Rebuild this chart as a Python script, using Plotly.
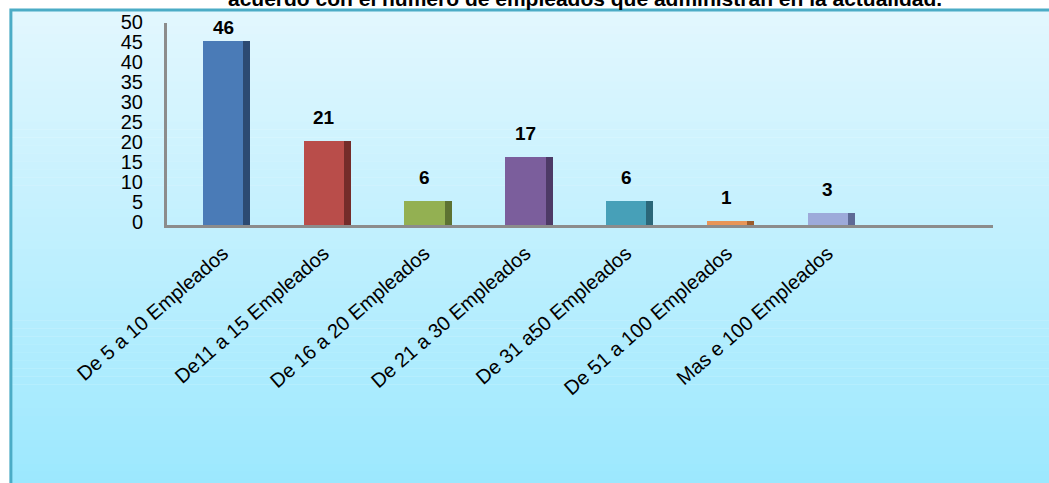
import plotly.graph_objects as go

categories = ["De 5 a 10 Empleados", "De11 a 15 Empleados", "De 16 a 20 Empleados",
              "De 21 a 30 Empleados", "De 31 a50 Empleados", "De 51 a 100 Empleados",
              "Mas e 100 Empleados", ""]
values = [46, 21, 6, 17, 6, 1, 3]
front_colors = ["#4A7BB7", "#B94D4A", "#93B052", "#7B5E9C", "#47A0B8", "#E89557", "#9DAADA"]
side_colors = ["#2C4A72", "#742C2A", "#5D7232", "#4D3A66", "#2B6779", "#9C5C2C", "#5E6A96"]
title_text = "acuerdo con el número de empleados que administran en la actualidad."

x_pos = list(range(len(categories)))
vals_pos = x_pos[:len(values)]

fig = go.Figure()

# background gradient box (decoration)
top_rgb = (0xE2, 0xF7, 0xFE)
bot_rgb = (0x9C, 0xE8, 0xFE)
n = 60
y_top, y_bot = 1.064, -1.30
for i in range(n):
    t = i / (n - 1)
    c = tuple(int(round(top_rgb[k] + (bot_rgb[k] - top_rgb[k]) * t)) for k in range(3))
    y0 = y_top - (y_top - y_bot) * i / n
    y1 = y_top - (y_top - y_bot) * (i + 1) / n
    fig.add_shape(type="rect", xref="paper", yref="paper", x0=-0.189, x1=1.1,
                  y0=y1 - 0.002, y1=y0, fillcolor="rgb(%d,%d,%d)" % c,
                  line_width=0, layer="below")
fig.add_shape(type="rect", xref="paper", yref="paper", x0=-0.189, x1=1.1,
              y0=-1.3, y1=1.064, line=dict(color="#4BACC6", width=3),
              fillcolor="rgba(0,0,0,0)", layer="below")

front_w = 0.40
side_w = 0.07
fig.add_trace(go.Bar(x=vals_pos, y=values, width=front_w, marker_color=front_colors,
                     marker_line_width=0, hoverinfo="skip", showlegend=False))
fig.add_trace(go.Bar(x=[p + front_w / 2 + side_w / 2 for p in vals_pos], y=values,
                     width=side_w, marker_color=side_colors, marker_line_width=0,
                     hoverinfo="skip", showlegend=False))

for p, v in zip(vals_pos, values):
    fig.add_annotation(x=p, y=min(v + 6, 49.5), text="<b>%d</b>" % v, showarrow=False,
                       yanchor="middle", xanchor="center",
                       font=dict(family="Liberation Sans, Arial", size=19, color="#000"))

fig.add_annotation(xref="paper", yref="paper", x=(585 - 167) / 826, y=(225 - 12) / 202,
                   yanchor="bottom", xanchor="center", showarrow=False,
                   text="<b>" + title_text + "</b>",
                   font=dict(family="Liberation Sans, Arial", size=21, color="#000"))

fig.update_layout(
    width=1049, height=483,
    margin=dict(l=167, r=56, t=23, b=258),
    paper_bgcolor="white", plot_bgcolor="rgba(0,0,0,0)",
    barmode="overlay", bargap=0,
    font=dict(family="Liberation Sans, Arial", color="#000"),
)
fig.update_xaxes(range=[-0.556, 7.64], tickmode="array", tickvals=x_pos, ticktext=categories,
                 tickangle=-41, tickfont=dict(size=20), showgrid=False, zeroline=False,
                 showline=True, linecolor="#8C8C8C", linewidth=3, ticks="",
                 ticklabelstandoff=6)
fig.update_yaxes(range=[0, 50.5], tickvals=list(range(0, 51, 5)), tickfont=dict(size=20),
                 showgrid=False, zeroline=False, showline=True, linecolor="#8C8C8C",
                 linewidth=3, ticks="", ticklabelstandoff=17, ticklabelshift=-3)

fig.write_html("out.html")
